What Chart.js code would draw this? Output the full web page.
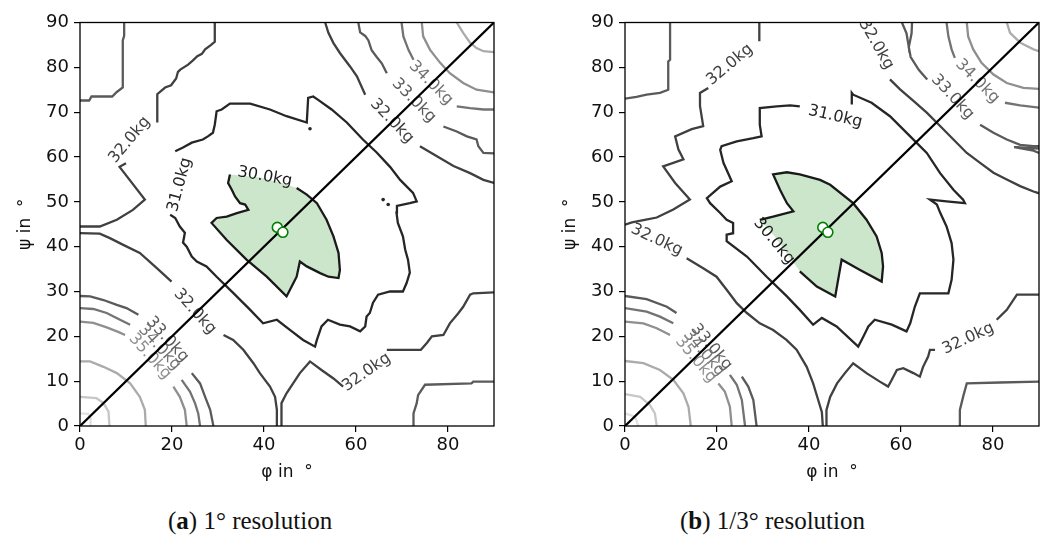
<!DOCTYPE html>
<html>
<head>
<meta charset="utf-8">
<script src="https://cdn.jsdelivr.net/npm/chart.js@4.4.1/dist/chart.umd.min.js"></script>
<style>
  body { margin: 0; background: #fff; width: 1046px; height: 536px; overflow: hidden; position: relative; }
  canvas { position: absolute; top: 0; }
  #chartA { left: 0; }
  #chartB { left: 545px; }
  .caption { position: absolute; top: 508px; line-height: 1; font-family: "Liberation Serif", serif; font-size: 25px; color: #111; white-space: nowrap; }
</style>
</head>
<body>
<canvas id="chartA" width="501" height="490"></canvas>
<canvas id="chartB" width="501" height="490"></canvas>
<div class="caption" style="left:168px">(<b>a</b>) 1° resolution</div>
<div class="caption" style="left:680px">(<b>b</b>) 1/3° resolution</div>
<script>
// axis ticks and contour levels
const xTicks = [0, 20, 40, 60, 80];
const yTicks = [0, 10, 20, 30, 40, 50, 60, 70, 80, 90];
const levels = [30, 31, 32, 33, 34, 35, 36, 37, 38];
const levelGreys = ['#1a1a1a', '#262626', '#404040', '#5a5a5a', '#737373', '#8f8f8f', '#ababab', '#c7c7c7', '#e0e0e0'];

const diagonal = [[0, 0], [90, 90]];
const optimumA = [[42.9, 44.3], [44.1, 43.2]];
const optimumB = [[43.0, 44.3], [44.1, 43.2]];

// ---- (a) 1 degree resolution ----
const a30 = [[47.1,53.1],[49.3,51.6],[51.5,49.7],[53.6,46.0],[55.1,42.3],[56.2,38.6],[56.5,34.8],[56.2,33.0],[54.0,33.3],[52.2,34.1],[49.3,35.6],[47.8,36.7],[47.1,33.3],[46.4,31.9],[44.9,28.9],[40.6,33.3],[36.2,37.1],[31.9,41.5],[28.6,45.3],[29.7,46.4],[31.9,46.7],[34.1,47.5],[36.6,48.2],[35.9,49.4],[34.8,49.7],[33.7,51.2],[33.0,52.7],[32.2,54.2],[32.6,56.1]];
const a30UnderLabel = [[34.8,55.9],[39.1,55.4],[43.5,54.3]];
const a31 = [[19.6,47.1],[20.7,46.4],[21.7,44.5],[22.8,43.1],[22.4,40.9],[23.2,40.0],[24.3,37.8],[25.4,36.7],[27.5,35.6],[29.7,33.3],[33.3,29.7],[37.0,25.9],[39.8,22.9],[42.8,23.7],[45.7,21.4],[48.5,19.2],[51.1,17.7],[51.5,19.2],[52.5,22.2],[53.9,23.7],[56.5,22.6],[58.7,22.2],[60.9,21.1],[62.0,22.2],[62.3,24.4],[63.0,25.2],[63.7,27.5],[64.8,29.3],[67.4,30.0],[70.2,30.0],[71.0,31.9],[71.7,34.2],[71.3,37.1],[70.7,39.3],[70.2,42.3],[69.1,45.3],[68.8,47.6],[68.9,49.1],[71.7,49.7],[73.2,50.1],[72.4,52.0],[69.6,54.9],[67.4,57.8],[64.5,61.0],[61.5,63.9],[58.0,67.7],[54.7,70.6],[51.7,72.8],[50.7,73.5],[49.6,73.2],[49.3,67.7],[44.9,69.1],[41.3,70.6],[37.0,71.9],[32.6,71.9],[30.8,70.6],[29.7,70.2],[29.3,67.2],[28.9,65.4],[27.8,64.6],[26.7,63.9],[24.3,63.2],[22.4,62.1],[20.7,61.3]];
const a32UpperLeft1 = [[29.3,90],[29.3,85.7],[28.5,85],[27.2,84],[26.5,83],[25.5,82.5],[24.5,81.5],[23.5,80.6],[21.8,79.5],[21.3,79],[20.9,77.5],[19.8,76],[18.5,75.5],[16.8,74],[16.8,67.7]];
const a32UpperLeft2 = [[10,58.6],[8.6,57.8],[14.1,50.5],[11.5,48.2],[8,46],[4.3,44.5],[0,44.5]];
const a32Left1 = [[0,43.0],[4.3,42.9],[6.5,41.9],[9.4,40.4],[13.0,38.6],[16.7,35.2],[19.9,32.2]];
const a32Left2 = [[31.2,20.3],[33.3,19.2],[35.5,17.0],[37.7,14.0],[39.1,11.8],[41.3,8.8],[42.4,6.5],[42.8,3.6],[42.8,0]];
const a32Right1 = [[43.8,0],[43.8,5.1],[44.9,7.3],[46.4,9.6],[47.8,11.8],[50.0,14.4],[52.5,12.5],[55.1,10.6],[57.2,8.8]];
const a32Right2 = [[66.7,17.0],[74.1,17.0],[75.4,18.5],[76.5,20.0],[79.0,20.3],[80.4,22.9],[82.2,25.1],[83.3,26.6],[84.8,29.3],[85.5,29.6],[90,29.8]];
const a32Top1 = [[53.3,90],[54.0,87.7],[55.1,85.4],[56.5,83.2],[58.7,80.2],[60.2,78.0],[62.0,73.9]];
const a32Top2 = [[73.9,62.4],[77.5,60.2],[81.2,58.0],[84.8,56.4],[87.7,54.9],[90,54.2]];
const a33TopLeft = [[9.6,90],[9.6,87],[9.3,86],[9.3,75.5],[8,74.5],[7,73.5],[2.5,73.5],[2,72.6],[0,72.6]];
const a33Top1 = [[60.5,90],[60.9,87.8],[62.0,87.0],[62.7,86.0],[63.4,83.8],[64.5,82.3],[65.6,80.9],[66.7,78.7]];
const a33Top2 = [[79.0,66.8],[81.9,65.7],[84.1,64.6],[86.2,63.9],[86.6,62.4],[87.7,60.9],[90,60.8]];
const a33BottomRight = [[72.5,0],[72.5,2.8],[73.2,5.1],[73.5,6.9],[75,9.2],[85.1,9.5],[85.5,9.9],[90,9.9]];
const a34Top1 = [[69.9,90],[70.3,86.9],[71.4,83.9],[72.5,81.7]];
const a34Top2 = [[81.9,71.3],[84.8,70.9],[87.7,70.6],[90,70.6]];
const a35Top = [[74.3,90],[74.6,86.9],[76.1,83.9],[78.3,81.0],[80.4,78.7],[83.3,76.5],[86.2,75.0],[90,74.4]];
const a36Top = [[81.9,90],[83.3,87.7],[84.8,85.5],[86.2,84.3],[87.7,83.6],[90,83.4]];
const a33Low1 = [[0,29.0],[2.2,28.9],[5.1,28.1],[8.0,27.0],[10.1,26.3],[12.7,24.8]];
const a33Low2 = [[24.3,11.8],[26.1,9.5],[27.2,6.5],[28.3,3.6],[29.0,0]];
const a34Low1 = [[0,26.3],[2.9,26.1],[5.8,25.2],[8.7,23.7],[10.9,22.6]];
const a34Low2 = [[22.1,10.3],[23.9,7.7],[25.0,5.1],[25.7,2.8],[26.1,0]];
const a35Low1 = [[0,23.3],[2.9,23.0],[5.8,22.0],[8.3,21.0],[9.8,20.3]];
const a35Low2 = [[20.3,8.8],[21.7,6.5],[22.8,3.6],[23.2,0]];
const a36Low = [[0,14.4],[2.2,14.4],[5.1,13.2],[8.0,11.8],[10.9,9.5],[13.0,6.5],[14.1,3.6],[14.3,0]];
const a37Low = [[0,6.5],[3.6,6.2],[5.1,5.1],[6.2,3.2],[6.4,0]];
const a38Low = [[0,2.8],[1.8,2.7],[2.3,1.7],[2.3,0]];
const aDots = [[50.0,66.3],[65.9,50.5],[67.0,49.4]];

const piecesA = [
  [30, a30], [31, a31],
  [32, a32UpperLeft1], [32, a32UpperLeft2], [32, a32Left1], [32, a32Left2],
  [32, a32Right1], [32, a32Right2], [32, a32Top1], [32, a32Top2],
  [33, a33TopLeft], [33, a33Top1], [33, a33Top2], [33, a33BottomRight],
  [34, a34Top1], [34, a34Top2], [35, a35Top], [36, a36Top],
  [33, a33Low1], [33, a33Low2], [34, a34Low1], [34, a34Low2],
  [35, a35Low1], [35, a35Low2], [36, a36Low], [37, a37Low], [38, a38Low]
];
// text, level, phi, psi, rotation (deg)
const labelsA = [
  ['30.0kg', 30, 40.2, 55.6, 10],
  ['31.0kg', 31, 21.7, 53.8, -75],
  ['32.0kg', 32, 10.8, 63.8, -50],
  ['32.0kg', 32, 25.0, 25.5, 48],
  ['32.0kg', 32, 62.3, 12.0, -35],
  ['32.0kg', 32, 67.8, 68.0, 46],
  ['33.0kg', 33, 72.6, 72.6, 45],
  ['34.0kg', 34, 76.3, 76.5, 45],
  ['33.0kg', 33, 19.0, 19.3, 48],
  ['34.0kg', 34, 17.3, 17.5, 48],
  ['35.0kg', 35, 15.2, 15.5, 48]
];

// ---- (b) 1/3 degree resolution ----
const b30 = [[38.0,34.5],[41.7,31.1],[45.7,28.9],[47.1,37.1],[51.1,34.8],[55.8,32.2],[56.1,35.6],[55.8,38.6],[54.7,42.3],[52.5,46.0],[49.6,49.7],[44.6,53.8],[42.4,54.9],[38.0,56.1],[35.2,56.6],[32.2,56.1],[33.7,52.7],[35.2,49.7],[36.6,47.9],[32.2,46.7],[29.3,46.0]];
const b30UnderLabel = [[32.6,42.2],[35.9,37.5]];
const b31 = [[38.0,71.3],[35.9,71.5],[33.0,71.3],[29.3,70.9],[29.3,67.2],[29.7,64.6],[27.9,64.2],[24.3,63.5],[21.0,62.4],[20.7,61.6],[21.4,58.7],[23.2,54.6],[20.7,53.4],[17.8,50.8],[18.5,49.7],[20.7,47.5],[22.1,46.0],[23.5,45.3],[23.5,43.0],[22.1,42.7],[22.1,41.2],[26.5,37.8],[30.8,33.3],[35.2,28.9],[38.0,25.9],[40.9,22.6],[42.8,24.1],[46.0,22.2],[50.7,17.7],[51.8,19.9],[52.9,22.2],[54.3,23.7],[58.0,22.6],[61.2,21.1],[62.0,22.9],[63.0,26.6],[64.1,29.6],[70.3,29.6],[71.0,32.6],[71.4,37.1],[71.0,40.8],[69.9,44.5],[68.5,47.6],[67.8,49.4],[66.3,50.5],[69.9,50.1],[73.9,49.7],[73.5,50.5],[71.4,52.7],[68.5,56.4],[65.6,60.9],[62.0,64.6],[57.6,69.1],[53.6,72.1],[49.6,73.9],[49.3,74.3],[49.3,71.7]];
const b32UpperLeft1 = [[29.2,90],[29.2,85.8]];
const b32UpperLeft2 = [[18.1,75.4],[16.3,74.3],[16.3,71.4],[17.0,66.9],[14.5,66.2],[10.9,64.6],[11.6,61.7],[12.7,59.5],[8.3,57.9],[10.9,54.2],[14.1,50.5],[10.5,48.3],[6.9,46.5],[4.0,45.9],[1.5,45.4],[0,44.9]];
const b32Left = [[13.4,37.4],[17.0,35.2],[19.9,33.3],[22.1,30.4],[24.3,27.4],[26.5,25.2],[29.3,22.9],[32.2,21.4],[35.1,19.2],[37.3,17.0],[39.5,13.2],[40.9,9.5],[42.0,5.8],[42.8,3.1],[43.0,0]];
const b32Right1 = [[43.8,0],[43.8,3.6],[44.6,6.5],[46.1,9.5],[47.8,11.8],[49.6,14.0],[52.5,11.8],[55.4,9.9],[57.2,8.8],[58.0,10.3],[59.1,12.5],[60.5,12.9],[62.7,11.8],[64.1,11.0],[64.8,13.2],[65.9,15.5],[66.3,17.0],[67.4,17.0]];
const b32Right2 = [[80.8,23.7],[83.0,25.9],[85.2,29.3],[90,29.3]];
const b32Top = [[57.6,77.3],[59.8,75.1],[62.7,72.5],[65.6,69.9],[68.5,66.9],[71.4,63.9],[74.3,60.9],[77.2,58.7],[80.1,56.5],[83.0,55.0],[85.9,53.5],[88.8,52.3],[90,51.9]];
const b33TopLeft = [[9.8,90],[9.8,81.7],[9.4,81.3],[9.4,75.0],[7.6,74.3],[4.7,73.9],[2.5,73.4],[0,73.0]];
const b33Spike = [[60.2,90],[61.2,87.6],[61.7,84.5],[62.3,87.6],[62.4,90]];
const b33Top1 = [[61.7,84.5],[62.1,82.3],[63.9,79.4],[65.7,77.3]];
const b33Top2 = [[77.2,67.2],[80.1,65.4],[83.0,63.9],[85.9,62.7],[88.8,62.4],[90,62.4]];
const b33EdgeSpike = [[90,61.9],[84.6,62.2],[88.8,61.4],[90,60.9]];
const b33BottomRight = [[72.7,0],[72.8,3.6],[73.5,6.5],[74.3,9.5],[81.5,9.7],[90,9.9]];
const b34Top1 = [[69.9,90],[70.3,86.9],[71.0,84.0],[71.7,82.1]];
const b34Top2 = [[82.6,72.1],[85.9,71.5],[90,71.0]];
const b35Top = [[74.3,90],[74.6,86.9],[75.7,84.0],[77.5,81.0],[80.1,78.4],[83.0,76.5],[86.6,75.4],[90,75.2]];
const b36Top = [[83.0,90],[83.7,87.7],[85.9,85.5],[88.8,84.0],[90,83.6]];
const b33Low1 = [[0,29.0],[4.7,28.3],[9.1,26.6],[11.2,25.2]];
const b33Low2 = [[25.4,11.0],[26.8,8.8],[27.9,5.8],[28.6,0]];
const b34Low1 = [[0,26.3],[4.7,25.5],[7.6,24.4],[10.5,22.9]];
const b34Low2 = [[22.8,11.4],[24.3,9.2],[25.4,5.8],[26.1,0]];
const b35Low1 = [[0,23.3],[4.0,22.9],[6.9,21.8],[9.8,20.3]];
const b35Low2 = [[20.3,9.5],[21.7,7.7],[22.8,4.3],[23.2,0]];
const b36Low = [[0,14.5],[4.0,14.0],[7.6,12.5],[10.5,10.3],[12.7,7.3],[13.8,4.3],[14.3,0]];
const b37Low = [[0,7.1],[3.3,6.5],[5.4,4.7],[6.5,2.8],[6.9,0]];
const b38Low = [[0,2.8],[2.2,2.1],[2.9,0]];
const bDots = [];

const piecesB = [
  [30, b30], [31, b31],
  [32, b32UpperLeft1], [32, b32UpperLeft2], [32, b32Left], [32, b32Right1], [32, b32Right2], [32, b32Top],
  [33, b33TopLeft], [33, b33Spike], [33, b33Top1], [33, b33Top2], [33, b33EdgeSpike], [33, b33BottomRight],
  [34, b34Top1], [34, b34Top2], [35, b35Top], [36, b36Top],
  [33, b33Low1], [33, b33Low2], [34, b34Low1], [34, b34Low2],
  [35, b35Low1], [35, b35Low2], [36, b36Low], [37, b37Low], [38, b38Low]
];
const labelsB = [
  ['30.0kg', 30, 32.4, 41.2, 50],
  ['31.0kg', 31, 45.7, 69.0, 13],
  ['32.0kg', 32, 22.8, 80.6, -40],
  ['32.0kg', 32, 6.9, 41.5, 25],
  ['32.0kg', 32, 74.6, 19.5, -25],
  ['32.0kg', 32, 54.6, 85.1, 60],
  ['33.0kg', 33, 71.2, 73.4, 47],
  ['34.0kg', 34, 76.6, 76.9, 45],
  ['33.0kg', 33, 18.8, 17.6, 50],
  ['34.0kg', 34, 17.2, 16.3, 50],
  ['35.0kg', 35, 15.4, 14.8, 50]
];

Chart.defaults.font.family = "'DejaVu Sans', sans-serif";
Chart.defaults.color = '#111';

function toPoints(arr) {
  return arr.map(p => ({ x: p[0], y: p[1] }));
}

function greyFor(level) {
  return levelGreys[levels.indexOf(level)];
}

// contour labels are drawn just before the diagonal, so the diagonal runs over them
function contourLabelPlugin(labels) {
  return {
    id: 'contourLabels',
    beforeDatasetDraw(chart, args) {
      if (!chart.data.datasets[args.index].isDiagonal) return;
      const { ctx, chartArea, scales } = chart;
      ctx.save();
      ctx.beginPath();
      ctx.rect(chartArea.left, chartArea.top, chartArea.width, chartArea.height);
      ctx.clip();
      ctx.font = "16px 'DejaVu Sans'";
      ctx.textAlign = 'center';
      ctx.textBaseline = 'middle';
      labels.forEach(([text, level, px, py, rot]) => {
        ctx.save();
        ctx.translate(scales.x.getPixelForValue(px), scales.y.getPixelForValue(py));
        ctx.rotate(rot * Math.PI / 180);
        ctx.fillStyle = greyFor(level);
        ctx.fillText(text, 0, 0);
        ctx.restore();
      });
      ctx.restore();
    }
  };
}

const framePlugin = {
  id: 'frame',
  afterDraw(chart) {
    const { ctx, chartArea } = chart;
    ctx.save();
    ctx.strokeStyle = '#000';
    ctx.lineWidth = 1.3;
    ctx.strokeRect(chartArea.left, chartArea.top, chartArea.width, chartArea.height);
    ctx.restore();
  }
};

function makeChart(canvasId, pieces, fillPts, dots, labels, optimum) {
  const datasets = [];

  datasets.push({
    data: toPoints(optimum),
    pointRadius: 5,
    pointBackgroundColor: '#fff',
    pointBorderColor: '#008000',
    pointBorderWidth: 1.6,
    showLine: false,
    order: 0
  });
  datasets.push({
    isDiagonal: true,
    data: toPoints(diagonal),
    showLine: true,
    borderColor: '#000',
    borderWidth: 2.3,
    pointRadius: 0,
    order: 1
  });
  pieces.forEach(([level, pts]) => {
    datasets.push({
      data: toPoints(pts),
      showLine: true,
      borderColor: greyFor(level),
      borderWidth: 2.3,
      pointRadius: 0,
      order: 2
    });
  });
  datasets.push({
    data: toPoints(dots),
    showLine: false,
    pointRadius: 1.8,
    pointBackgroundColor: greyFor(31),
    pointBorderWidth: 0,
    order: 2
  });
  datasets.push({
    data: toPoints(fillPts),
    showLine: true,
    borderWidth: 0,
    borderColor: 'rgba(0,0,0,0)',
    backgroundColor: 'rgba(0,128,0,0.2)',
    fill: 'shape',
    pointRadius: 0,
    order: 3
  });

  const axisCommon = {
    type: 'linear',
    min: 0,
    max: 90,
    border: { display: false },
    grid: { drawOnChartArea: false, drawTicks: true, tickLength: 6, color: '#000', lineWidth: 1.2 },
  };

  return new Chart(document.getElementById(canvasId), {
    type: 'scatter',
    data: { datasets },
    options: {
      responsive: false,
      animation: false,
      events: [],
      layout: { padding: { left: 0, top: 22.5, right: 7, bottom: 0 } },
      plugins: { legend: { display: false }, tooltip: { enabled: false } },
      scales: {
        x: {
          ...axisCommon,
          afterBuildTicks: s => { s.ticks = xTicks.map(v => ({ value: v })); },
          afterFit: s => { s.height = 64; },
          ticks: { color: '#111', font: { size: 18 }, padding: 3, maxRotation: 0 },
          title: { display: true, text: 'φ in  °', color: '#111', font: { size: 17 }, padding: { top: 0, bottom: 7 } }
        },
        y: {
          ...axisCommon,
          afterBuildTicks: s => { s.ticks = yTicks.map(v => ({ value: v })); },
          afterFit: s => { s.width = 80; },
          ticks: { color: '#111', font: { size: 18 }, padding: 5 },
          title: { display: true, text: 'ψ in  °', color: '#111', font: { size: 17 }, padding: { top: 15, bottom: 0 } }
        }
      }
    },
    plugins: [contourLabelPlugin(labels), framePlugin]
  });
}

makeChart('chartA', piecesA, a30.concat(a30UnderLabel), aDots, labelsA, optimumA);
makeChart('chartB', piecesB, b30.concat(b30UnderLabel), bDots, labelsB, optimumB);
</script>
</body>
</html>
